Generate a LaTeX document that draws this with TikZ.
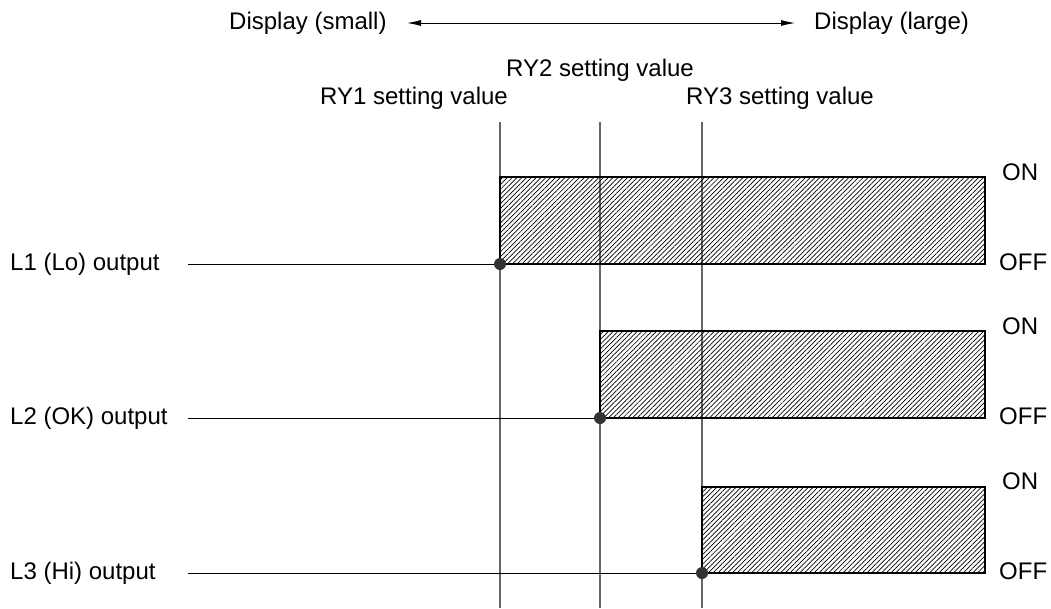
\documentclass[tikz,border=0pt]{standalone}
\usepackage{fontspec}
\setmainfont{Liberation Sans}
\usetikzlibrary{patterns.meta,arrows.meta}
\begin{document}
\begin{tikzpicture}[x=1pt, y=-1pt,
  every node/.style={font=\fontsize{24}{28}\selectfont, inner sep=0pt},
  setline/.style={draw=black!60, line width=1.4pt},
  sigline/.style={draw=black, line width=0.9pt},
  onbox/.style={draw=black, line width=1.3pt,
    pattern={Lines[angle=45, distance=3.4pt, line width=0.7pt]}},
  dot/.style={circle, fill=black!80, minimum size=12pt, inner sep=0pt},
  >={Latex[length=14pt, width=6pt]}]
  \useasboundingbox (0,0) rectangle (1051,608);
  % Display direction
  \node[anchor=west] (small) at (229,23) {Display (small)};
  \node[anchor=west] (large) at (814,23) {Display (large)};
  \coordinate (lefttip) at (407,23);
  \coordinate (righttip) at (795,23);
  \draw[<->, line width=0.9pt] (lefttip) -- (righttip);
  % Setting values
  \node (ry2) at (600,70) {RY2 setting value};
  \node[anchor=west] (ry1) at (320,98) {RY1 setting value};
  \node[anchor=west] (ry3) at (686,98) {RY3 setting value};
  \draw[setline] (500,122) -- (500,608);
  \draw[setline] (600,122) -- (600,608);
  \draw[setline] (702,122) -- (702,608);
  % Outputs
  \node[anchor=west] (l1) at (10,264) {L1 (Lo) output};
  \node[anchor=west] (l2) at (10,418) {L2 (OK) output};
  \node[anchor=west] (l3) at (10,573) {L3 (Hi) output};
  \draw[sigline] (188,264) -- (985,264);
  \draw[sigline] (188,418) -- (985,418);
  \draw[sigline] (188,573) -- (985,573);
  \draw[onbox] (500,177) rectangle (985,264);
  \draw[onbox] (600,331) rectangle (985,418);
  \draw[onbox] (702,487) rectangle (985,573);
  \node[dot] (d1) at (500,264) {};
  \node[dot] (d2) at (600,418) {};
  \node[dot] (d3) at (702,573) {};
  % ON / OFF levels
  \node[anchor=west] (on1) at (1002,172) {ON};
  \node[anchor=west] (off1) at (999,262) {OFF};
  \node[anchor=west] (on2) at (1002,326) {ON};
  \node[anchor=west] (off2) at (999,416) {OFF};
  \node[anchor=west] (on3) at (1002,481) {ON};
  \node[anchor=west] (off3) at (999,571) {OFF};
\end{tikzpicture}
\end{document}
